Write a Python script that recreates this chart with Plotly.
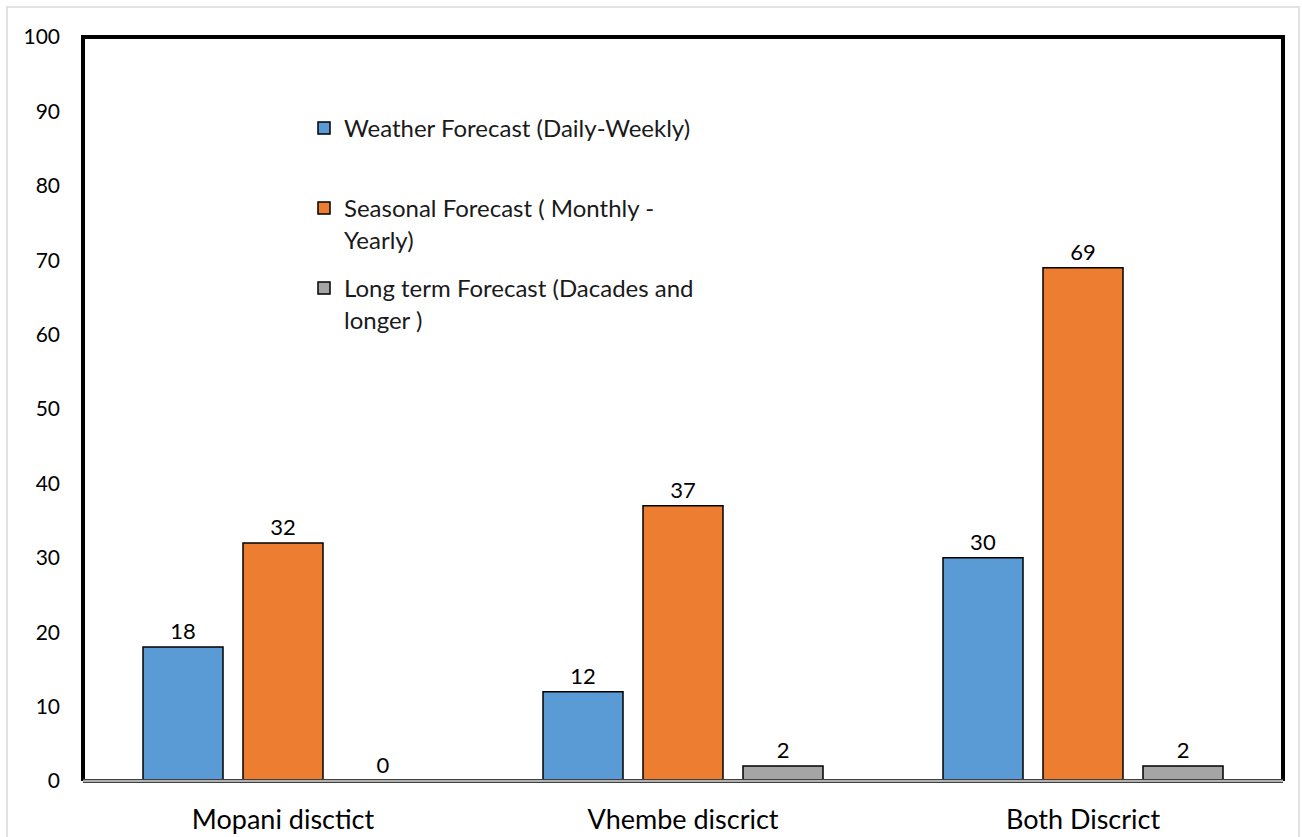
import plotly.graph_objects as go

# Forecast use by district (percent of respondents)
districts = ["Mopani disctict", "Vhembe discrict", "Both Discrict"]
weather_daily_weekly = [18, 12, 30]
seasonal_monthly_yearly = [32, 37, 69]
long_term_decades = [0, 2, 2]

series_names = [
    "Weather Forecast (Daily-Weekly)",
    "Seasonal Forecast ( Monthly -<br>Yearly)",
    "Long term Forecast (Dacades and<br>longer )",
]
series_values = [weather_daily_weekly, seasonal_monthly_yearly, long_term_decades]
series_colors = ["#5B9BD5", "#ED7D31", "#A5A5A5"]
legend_ids = ["legend", "legend2", "legend3"]

FONT = "Lato"
W, H = 1302, 837
L, R, T, B = 83, 19, 37, 56
plot_w = W - L - R
plot_h = H - T - B

fig = go.Figure()
for name, vals, color, lg in zip(series_names, series_values, series_colors, legend_ids):
    fig.add_trace(go.Bar(
        x=districts, y=vals, name=name, legend=lg,
        marker=dict(color=color, line=dict(color="black", width=1.5)),
        text=vals, textposition="outside", cliponaxis=False,
        textfont=dict(family=FONT, size=22, color="black"),
    ))

def px_x(px):
    return (px - L) / plot_w

def px_y(py):
    return (H - B - py) / plot_h

legend_tops = [106, 186, 266]
legend_style = dict(
    x=px_x(304), xanchor="left", yanchor="top",
    font=dict(family=FONT, size=24, color="#1a1a1a"),
    bgcolor="rgba(0,0,0,0)", valign="top", itemwidth=30,
)

fig.update_layout(
    width=W, height=H,
    margin=dict(l=L, r=R, t=T, b=B, autoexpand=False),
    paper_bgcolor="white", plot_bgcolor="white",
    barmode="group", bargap=0.25, bargroupgap=0.2,
    showlegend=True,
    legend=dict(y=px_y(legend_tops[0]), **legend_style),
    legend2=dict(y=px_y(legend_tops[1]), **legend_style),
    legend3=dict(y=px_y(legend_tops[2]), **legend_style),
    font=dict(family=FONT, color="black"),
    xaxis=dict(
        showgrid=False, showline=False, ticks="", automargin=False,
        tickfont=dict(family=FONT, size=27, color="black"),
        ticklabelstandoff=20,
    ),
    yaxis=dict(
        range=[0, 100], dtick=10, showgrid=False, showline=False,
        zeroline=False, ticks="", automargin=False,
        tickfont=dict(family=FONT, size=21, color="black"),
        ticklabelstandoff=22,
    ),
    shapes=[
        # outer chart border
        dict(type="rect", xref="paper", yref="paper",
             x0=px_x(7), x1=px_x(1299), y0=px_y(845), y1=px_y(7),
             line=dict(color="#d9d9d9", width=1.5), layer="below"),
        # heavy frame on left, top and right
        dict(type="path", xref="paper", yref="paper",
             path="M 0 0 L 0 1 L 1 1 L 1 0",
             line=dict(color="black", width=4), layer="above"),
        # category axis line
        dict(type="line", xref="paper", yref="paper", x0=0, x1=1, y0=0, y1=0,
             line=dict(color="#404040", width=4), layer="above"),
        dict(type="line", xref="paper", yref="paper", x0=0, x1=1, y0=0, y1=0,
             line=dict(color="#b0b0b0", width=2), layer="above"),
    ],
)

fig.write_html("out.html")
